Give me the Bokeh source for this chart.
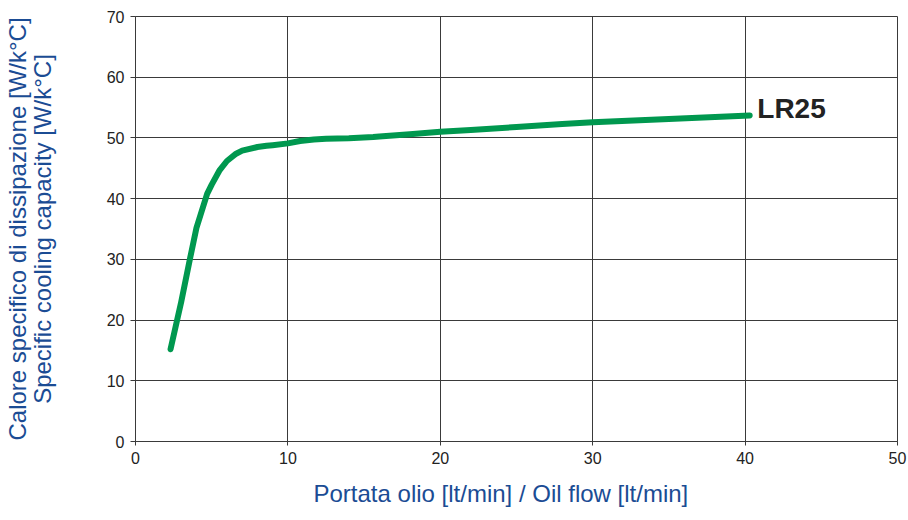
from bokeh.plotting import figure
from bokeh.models import SingleIntervalTicker, Range1d, Title
from bokeh.core.properties import value
from bokeh.embed import file_html
from bokeh.resources import INLINE

# Data
flow = [2.3, 3.0, 3.6, 4.0, 4.7, 5.0, 5.5, 6.0, 6.6, 7.0, 8.0, 8.6, 9.0, 10.0, 10.8, 11.7,
        12.5, 14.0, 15.6, 16.0, 18.0, 20.0, 22.0, 25.0, 28.0, 30.0, 35.0, 40.3]
capacity = [15.2, 23.0, 30.4, 35.2, 40.8, 42.3, 44.6, 46.2, 47.4, 47.9, 48.5, 48.7, 48.8, 49.1, 49.5, 49.75,
            49.85, 49.95, 50.15, 50.25, 50.6, 51.0, 51.3, 51.8, 52.3, 52.6, 53.1, 53.7]
series_name = "LR25"
x_label = "Portata olio [lt/min] / Oil flow [lt/min]"
y_label = "Calore specifico di dissipazione [W/k°C]\nSpecific cooling capacity [W/k°C]"

FONT = "Liberation Sans"
BLUE = "#1b4c94"
GRID = "#3a3a3a"

p = figure(width=908, height=520, frame_width=762, frame_height=425,
           x_range=Range1d(0, 50), y_range=Range1d(0, 70),
           output_backend="svg", toolbar_location=None,
           min_border_left=135, min_border_top=16, min_border_right=11, min_border_bottom=79)

p.background_fill_color = "white"
p.border_fill_color = "white"
p.outline_line_color = GRID
p.outline_line_width = 1

for ax in (p.xaxis[0], p.yaxis[0]):
    ax.ticker = SingleIntervalTicker(interval=10, num_minor_ticks=0)
    ax.axis_line_color = GRID
    ax.major_tick_line_color = GRID
    ax.major_tick_in = 0
    ax.minor_tick_line_color = None
    ax.major_label_text_font = FONT
    ax.major_label_text_font_size = "16px"
    ax.major_label_text_color = "#222222"
    ax.axis_label_text_font = FONT
    ax.axis_label_text_font_size = "24px"
    ax.axis_label_text_font_style = "normal"
    ax.axis_label_text_color = BLUE

p.xaxis[0].major_tick_out = 4
p.yaxis[0].major_tick_out = 5
p.xaxis[0].major_label_standoff = 6
p.yaxis[0].major_label_standoff = 6
p.yaxis.axis_label = y_label
p.yaxis[0].axis_label_text_line_height = 0.92
p.yaxis[0].axis_label_standoff = 48

p.add_layout(Title(text=x_label, align="left", offset=178, standoff=23,
                   text_font=FONT, text_font_size="24px", text_font_style="normal",
                   text_color=BLUE), "below")

p.xgrid.ticker = SingleIntervalTicker(interval=10)
p.ygrid.ticker = SingleIntervalTicker(interval=10)
p.grid.grid_line_color = GRID
p.grid.grid_line_width = 1

p.line(flow, capacity, line_color="#00984f", line_width=6, line_cap="round", line_join="round")

p.text(x=[flow[-1] + 0.5], y=[54.8], text=[series_name],
       text_font=value(FONT), text_font_size="28px", text_font_style="bold",
       text_color="#222222", text_baseline="middle", text_align="left")

open("out.html", "w").write(file_html(p, INLINE))
